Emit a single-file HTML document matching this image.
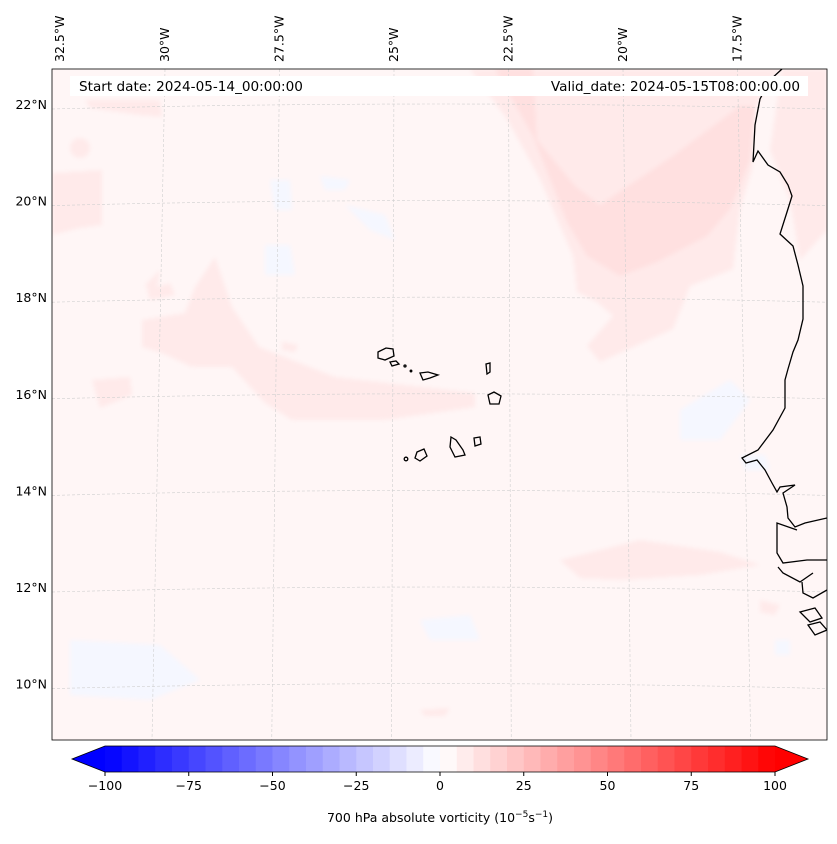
<!DOCTYPE html>
<html><head><meta charset="utf-8"><style>
body{margin:0;background:#fff;width:837px;height:839px;overflow:hidden;font-family:"Liberation Sans","DejaVu Sans",sans-serif}
svg text{font-family:"DejaVu Sans","Liberation Sans",sans-serif}
</style></head><body>
<svg id="chart" width="837" height="839">
<defs>
<clipPath id="mapclip"><rect x="52" y="69" width="775" height="671"/></clipPath>
<filter id="blur"><feGaussianBlur stdDeviation="2"/></filter>
</defs>
<g id="map" clip-path="url(#mapclip)">
<rect x="52" y="69" width="775" height="671" fill="#fff6f6"/>
<g filter="url(#blur)" fill="#ffeaea">
<path d="M470,69 L782,69 L770,80 L753,112 L752,169 L740,209 L733,269 L690,286 L673,329 L600,362 L587,346 L613,316 L597,302 L577,292 L573,256 L557,219 L540,179 L507,119 Z"/>
<path d="M782,69 L827,69 L827,230 L800,260 L790,200 L770,150 Z"/>
<path d="M215,257 L232,307 L259,347 L335,377 L475,393 L475,407 L385,420 L292,420 L265,403 L232,367 L192,367 L162,353 L142,347 L142,320 L185,313 L195,287 Z"/>
<path d="M52,173 L102,170 L102,225 L80,228 L52,235 Z"/>
<circle cx="80" cy="148" r="10"/>
<path d="M92,380 L130,377 L132,395 L100,408 Z"/>
<path d="M85,100 L160,100 L162,117 L140,115 L90,108 Z"/>
<path d="M145,285 L160,270 L155,300 Z"/>
<path d="M147,290 L170,283 L175,295 L150,300 Z"/>
<path d="M230,345 L245,342 L248,352 Z"/>
<path d="M282,342 L298,345 L295,352 L282,350 Z"/>
<path d="M560,560 L640,540 L720,552 L760,565 L700,575 L620,580 L580,578 Z"/>
<path d="M760,600 L780,605 L775,615 L760,612 Z"/>
<path d="M420,710 L450,708 L445,716 L425,716 Z"/>
<path d="M735,768 L785,765 L780,775 L740,778 Z"/>
</g>
<g filter="url(#blur)" fill="#ffe0e0">
<path d="M495,69 L533,69 L537,140 L575,186 L600,205 L673,156 L740,106 L755,106 L750,160 L730,209 L707,236 L657,262 L620,276 L587,256 L567,222 L550,179 L533,136 Z"/>
</g>
<g fill="#f5f7ff" filter="url(#blur)">
<path d="M70,640 L160,645 L200,680 L150,700 L70,695 Z"/>
<path d="M270,180 L290,180 L292,210 L275,210 Z"/>
<path d="M320,176 L350,180 L345,190 L325,190 Z"/>
<path d="M345,205 L385,215 L395,240 L370,230 Z"/>
<path d="M265,245 L290,245 L295,275 L265,275 Z"/>
<path d="M680,410 L730,380 L750,400 L720,440 L680,440 Z"/>
<path d="M740,455 L765,455 L770,470 L745,470 Z"/>
<path d="M775,640 L790,640 L790,655 L775,655 Z"/>
<path d="M420,620 L470,615 L480,640 L430,640 Z"/>
</g>
<g id="grid" stroke="#cfcfcf" stroke-width="0.6" stroke-dasharray="3,2" fill="none"></g>
<g stroke="#000" stroke-width="1.3" fill="none">
<path d="M782,69 L770,80 L760,99 L755,125 L753,162 L758,151 L768,165 L780,172 L788,185 L792,196 L787,212 L780,234 L793,246 L798,265 L803,286 L803,319 L798,340 L793,352 L788,369 L785,380 L785,408 L773,430 L758,450 L742,458 L746,463 L757,460 L765,470 L772,483 L777,492 L780,487 L795,485 L783,493 L787,507 L788,518 L795,527 L805,523 L827,518"/>
<path d="M797,530 L777,523 L777,553 L783,563 L807,560 L827,560"/>
<path d="M778,567 L783,573 L800,582 L813,573"/>
<path d="M802,582 L803,593 L813,598 L827,590"/>
<path d="M800,612 L815,608 L822,618 L810,622 Z"/>
<path d="M808,625 L820,622 L827,630 L815,635 Z"/>
</g>
<g stroke="#000" stroke-width="1.3" fill="none">
<path d="M378,352 L386,348 L393,349 L394,356 L385,360 L378,358 Z"/>
<path d="M390,362 L396,361 L399,364 L392,366 Z"/>
<circle cx="405" cy="366" r="1"/><circle cx="411" cy="371" r="0.8"/>
<path d="M420,373 L428,372 L438,375 L430,378 L423,380 Z"/>
<path d="M486,364 L490,363 L490,372 L487,374 Z"/>
<path d="M488,395 L494,392 L501,396 L499,404 L490,404 Z"/>
<path d="M451,437 L456,440 L463,450 L465,455 L455,457 L450,447 Z"/>
<path d="M474,438 L480,437 L481,444 L475,446 Z"/>
<path d="M417,452 L424,449 L427,456 L420,461 L415,458 Z"/>
<circle cx="406" cy="459" r="1.8"/>
</g>
</g>
<rect x="52" y="69" width="775" height="671" fill="none" stroke="#000" stroke-width="0.8"/>
<rect x="70" y="76" width="738" height="20" fill="#fff"/>
<text x="79" y="91" font-size="13.6">Start date: 2024-05-14_00:00:00</text>
<text x="800" y="91" font-size="13.6" text-anchor="end">Valid_date: 2024-05-15T08:00:00.00</text>
<g id="lonlabels" font-size="12.5"></g>
<g id="latlabels" font-size="12.5"></g>
<g id="cbar"></g>
<text x="440" y="822" font-size="12.5" text-anchor="middle">700 hPa absolute vorticity (10<tspan dy="-5" font-size="9">−5</tspan><tspan dy="5">s</tspan><tspan dy="-5" font-size="9">−1</tspan><tspan dy="5">)</tspan></text>
</svg>
<script>
const levels=[];for(let v=-100;v<=100;v+=5)levels.push(v);
const cbTicks=[-100,-75,-50,-25,0,25,50,75,100];
const latTicks=[22,20,18,16,14,12,10];
const lonTicks=[32.5,30,27.5,25,22.5,20,17.5];
const NS='http://www.w3.org/2000/svg';
function mk(t,a,p){const e=document.createElementNS(NS,t);for(const k in a)e.setAttribute(k,a[k]);p.appendChild(e);return e;}
const cx=v=>440+(v)*3.35;
const latY=l=>105+(22-l)*48.3;
const lonTop=l=>(165+(30-l)*45.8);
const lonBot=l=>(152+(30-l)*47.9);
function col(v){const t=(v+100)/200;let r,g,b;if(t<0.5){r=g=2*t;b=1;}else{r=1;g=b=2*(1-t);}return `rgb(${Math.round(r*255)},${Math.round(g*255)},${Math.round(b*255)})`;}
const grid=document.getElementById('grid');
latTicks.forEach(l=>{const y=latY(l);const e=mk('path',{d:`M52,${y+4} Q440,${y-6} 827,${y+4}`},grid);

});
lonTicks.forEach(l=>{const e=mk('line',{x1:lonTop(l),y1:69,x2:lonBot(l),y2:740},grid);

});
const ll=document.getElementById('latlabels');
latTicks.forEach(l=>{const e=mk('text',{x:47,y:latY(l)+4,'text-anchor':'end'},ll);e.textContent=l+'°N';

});
const lo=document.getElementById('lonlabels');
lonTicks.forEach(l=>{let x=lonTop(l)+4;if(l===32.5)x=64;const e=mk('text',{x:x,y:62,transform:`rotate(-90 ${x} 62)`},lo);e.textContent=l+'°W';

});
const cb=document.getElementById('cbar');
const y0=746,y1=772;
for(let i=0;i<levels.length-1;i++){const a=levels[i],b=levels[i+1];const r=mk('rect',{x:cx(a),y:y0,width:cx(b)-cx(a)+0.5,height:y1-y0,fill:col((a+b)/2)},cb);

}
const lt=mk('polygon',{points:`${cx(-100)},${y0} ${cx(-100)},${y1} 72,${(y0+y1)/2}`,fill:col(-100)},cb);


const rt=mk('polygon',{points:`${cx(100)},${y0} ${cx(100)},${y1} 808,${(y0+y1)/2}`,fill:col(100)},cb);


const ol=mk('polygon',{points:`72,${(y0+y1)/2} ${cx(-100)},${y0} ${cx(100)},${y0} 808,${(y0+y1)/2} ${cx(100)},${y1} ${cx(-100)},${y1}`,fill:'none',stroke:'#000','stroke-width':0.8},cb);


cbTicks.forEach(v=>{mk('line',{x1:cx(v),y1:y1,x2:cx(v),y2:y1+4,stroke:'#000'},cb);
const t=mk('text',{x:cx(v),y:y1+18,'font-size':12.5,'text-anchor':'middle'},cb);t.textContent=(v<0?'−'+(-v):v);

});
</script>
</body></html>
